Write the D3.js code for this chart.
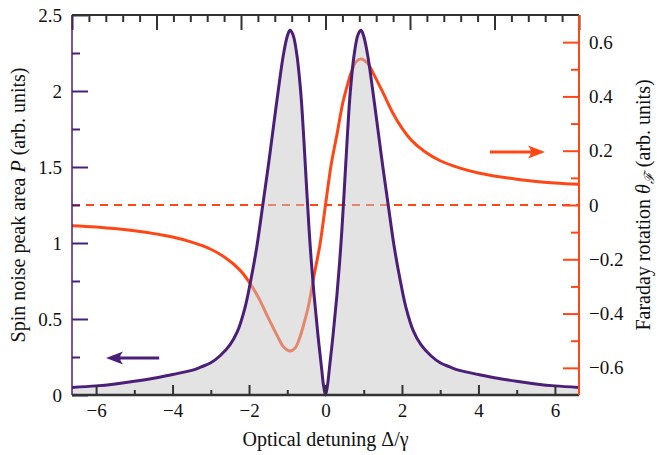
<!DOCTYPE html>
<html>
<head>
<meta charset="utf-8">
<script src="https://cdn.jsdelivr.net/npm/d3@7"></script>
<style>
body { margin: 0; background: #fff; }
svg text { font-family: "Liberation Serif", "Times New Roman", serif; fill: #111; }
</style>
</head>
<body>
<svg width="666" height="455"></svg>
<script>
// spin noise peak area (left axis)
var detuningP = [-6.63, -6.0, -5.5, -5.0, -4.5, -4.0, -3.5, -3.25, -3.0, -2.75, -2.5, -2.3, -2.1, -1.95, -1.8, -1.64, -1.5, -1.39, -1.2, -1.1, -1.0, -0.93, -0.85, -0.75, -0.65, -0.58, -0.48, -0.4, -0.3, -0.2, -0.1, -0.05, 0,
  0.05, 0.1, 0.2, 0.3, 0.4, 0.48, 0.58, 0.65, 0.75, 0.85, 0.93, 1.0, 1.1, 1.2, 1.39, 1.5, 1.64, 1.8, 1.95, 2.1, 2.3, 2.5, 2.75, 3.0, 3.25, 3.5, 4.0, 4.5, 5.0, 5.5, 6.0, 6.63];
var noiseArea = [0.050, 0.060, 0.073, 0.090, 0.110, 0.135, 0.162, 0.185, 0.212, 0.260, 0.330, 0.42, 0.58, 0.76, 0.97, 1.25, 1.50, 1.71, 2.07, 2.24, 2.36, 2.40, 2.37, 2.24, 2.00, 1.74, 1.30, 0.98, 0.66, 0.40, 0.17, 0.06, 0,
  0.06, 0.17, 0.40, 0.66, 0.98, 1.30, 1.74, 2.00, 2.24, 2.37, 2.40, 2.36, 2.24, 2.07, 1.71, 1.50, 1.25, 0.97, 0.76, 0.58, 0.42, 0.330, 0.260, 0.212, 0.185, 0.162, 0.135, 0.110, 0.090, 0.073, 0.060, 0.050];

// faraday rotation (right axis)
var detuningF = [-6.63, -6.0, -5.0, -4.0, -3.5, -3.0, -2.6, -2.25, -2.0, -1.75, -1.5, -1.25, -1.1, -0.93, -0.8, -0.67, -0.55, -0.45, -0.3, -0.15, 0,
  0.15, 0.3, 0.45, 0.55, 0.67, 0.8, 0.93, 1.1, 1.25, 1.5, 1.75, 2.0, 2.25, 2.6, 3.0, 3.5, 4.0, 5.0, 6.0, 6.63];
var faraday = [-0.076, -0.081, -0.095, -0.118, -0.137, -0.163, -0.196, -0.238, -0.283, -0.342, -0.415, -0.485, -0.522, -0.538, -0.528, -0.487, -0.43, -0.375, -0.26, -0.15, 0,
  0.15, 0.26, 0.375, 0.43, 0.487, 0.528, 0.538, 0.522, 0.485, 0.415, 0.342, 0.283, 0.238, 0.196, 0.163, 0.137, 0.118, 0.095, 0.081, 0.076];

// tick labels
var xTicks = [-6, -4, -2, 0, 2, 4, 6];
var xMinor = [-5, -3, -1, 1, 3, 5];
var leftTicks = [0, 0.5, 1, 1.5, 2, 2.5];
var leftMinor = [0.25, 0.75, 1.25, 1.75, 2.25];
var rightTicks = [-0.6, -0.4, -0.2, 0, 0.2, 0.4, 0.6];
var rightMinor = [-0.5, -0.3, -0.1, 0.1, 0.3, 0.5];
var topTicks = [-3, -2, -1, 0, 1, 2, 3];

var purple = "#4b1e78";
var orange = "#ff4716";
var dark = "#333";
var serif = "'Liberation Serif', 'Times New Roman', serif";

// plot box (window.top is read-only, so no plain "top")
var pLeft = 72, pRight = 579, pTop = 15, pBottom = 395;

var svg = d3.select("svg");

var x = d3.scaleLinear().domain([-6.63, 6.63]).range([pLeft, pRight]);
var xTop = d3.scaleLinear().domain([-3, 3]).range([pLeft, pRight]);
var yP = d3.scaleLinear().domain([0, 2.5]).range([pBottom, pTop]);
var yF = d3.scaleLinear().domain([-0.7, 0.7]).range([pBottom, pTop]);

var fmt = d3.format("");
var smooth = d3.curveCatmullRom.alpha(0.5);

var pts = detuningP.map(function (d, i) { return [d, noiseArea[i]]; });
var ptsF = detuningF.map(function (d, i) { return [d, faraday[i]]; });

// dashed zero line of faraday rotation (goes under the fill)
svg.append("line")
  .attr("x1", pLeft).attr("x2", pRight)
  .attr("y1", yF(0)).attr("y2", yF(0))
  .attr("stroke", orange).attr("stroke-width", 2)
  .attr("stroke-dasharray", "8,6");

svg.append("path")
  .datum(ptsF)
  .attr("fill", "none")
  .attr("stroke", orange)
  .attr("stroke-width", 3)
  .attr("d", d3.line()
    .x(function (d) { return x(d[0]); })
    .y(function (d) { return yF(d[1]); })
    .curve(smooth));

// translucent grey fill below the noise curve
svg.append("path")
  .datum(pts)
  .attr("fill", "rgba(200,200,200,0.5)")
  .attr("d", d3.area()
    .x(function (d) { return x(d[0]); })
    .y0(yP(0))
    .y1(function (d) { return yP(d[1]); })
    .curve(smooth));

svg.append("path")
  .datum(pts)
  .attr("fill", "none")
  .attr("stroke", purple)
  .attr("stroke-width", 3)
  .attr("d", d3.line()
    .x(function (d) { return x(d[0]); })
    .y(function (d) { return yP(d[1]); })
    .curve(smooth));

// axes, ticks point inward
function styleAxis(g, col) {
  g.attr("font-family", null).attr("font-size", null);
  g.select(".domain").remove();
  g.selectAll(".tick line").attr("stroke", col).attr("stroke-width", 2);
  g.selectAll(".tick text")
    .style("font-family", serif)
    .style("font-size", "19px")
    .attr("fill", "#111");
}

svg.append("g").attr("transform", "translate(0," + pBottom + ")")
  .call(d3.axisBottom(x).tickValues(xTicks).tickSize(-10).tickPadding(9).tickFormat(fmt))
  .call(styleAxis, dark);
svg.append("g").attr("transform", "translate(0," + pBottom + ")")
  .call(d3.axisBottom(x).tickValues(xMinor).tickSize(-5).tickFormat(""))
  .call(styleAxis, dark);

svg.append("g").attr("transform", "translate(0," + pTop + ")")
  .call(d3.axisTop(xTop).tickValues(topTicks).tickSize(-15).tickFormat(""))
  .call(styleAxis, dark);
svg.append("g").attr("transform", "translate(0," + pTop + ")")
  .call(d3.axisTop(xTop).tickValues(d3.range(-2.8, 3, 0.2).filter(function (v) { return Math.abs(v - Math.round(v)) > 0.05; })).tickSize(-7).tickFormat(""))
  .call(styleAxis, dark);

svg.append("g").attr("transform", "translate(" + pLeft + ",0)")
  .call(d3.axisLeft(yP).tickValues(leftTicks).tickSize(-16).tickPadding(10).tickFormat(fmt))
  .call(styleAxis, purple);
svg.append("g").attr("transform", "translate(" + pLeft + ",0)")
  .call(d3.axisLeft(yP).tickValues(leftMinor).tickSize(-8).tickFormat(""))
  .call(styleAxis, purple);

svg.append("g").attr("transform", "translate(" + pRight + ",0)")
  .call(d3.axisRight(yF).tickValues(rightTicks).tickSize(-16).tickPadding(10).tickFormat(fmt))
  .call(styleAxis, orange);
svg.append("g").attr("transform", "translate(" + pRight + ",0)")
  .call(d3.axisRight(yF).tickValues(rightMinor).tickSize(-8).tickFormat(""))
  .call(styleAxis, orange);

// spines
svg.append("line").attr("x1", pLeft).attr("x2", pRight).attr("y1", pTop).attr("y2", pTop)
  .attr("stroke", dark).attr("stroke-width", 2);
svg.append("line").attr("x1", pLeft).attr("x2", pRight).attr("y1", pBottom).attr("y2", pBottom)
  .attr("stroke", dark).attr("stroke-width", 2.5);
svg.append("line").attr("x1", pLeft).attr("x2", pLeft).attr("y1", pTop).attr("y2", pBottom)
  .attr("stroke", purple).attr("stroke-width", 1.5);
svg.append("line").attr("x1", pRight).attr("x2", pRight).attr("y1", pTop).attr("y2", pBottom)
  .attr("stroke", orange).attr("stroke-width", 2);

// arrows telling which curve belongs to which axis
function arrow(x0, x1, yy, col) {
  var dir = x1 < x0 ? -1 : 1;
  svg.append("line")
    .attr("x1", x0).attr("x2", x1 - dir * 8).attr("y1", yy).attr("y2", yy)
    .attr("stroke", col).attr("stroke-width", 3);
  svg.append("path")
    .attr("d", "M" + x1 + "," + yy +
      "L" + (x1 - dir * 17) + "," + (yy - 6.5) +
      "Q" + (x1 - dir * 11) + "," + yy + " " + (x1 - dir * 17) + "," + (yy + 6.5) + "Z")
    .attr("fill", col);
}
arrow(x(-4.35), x(-5.74), yP(0.243), purple);
arrow(x(4.3), x(5.74), yF(0.195), orange);

// axis titles
svg.append("text")
  .attr("x", (pLeft + pRight) / 2).attr("y", 446)
  .attr("text-anchor", "middle")
  .style("font-size", "20px")
  .text("Optical detuning \u0394/\u03b3");

var lt = svg.append("text")
  .attr("transform", "translate(25," + (pTop + pBottom) / 2 + ") rotate(-90)")
  .attr("text-anchor", "middle")
  .style("font-size", "20px");
lt.append("tspan").text("Spin noise peak area ");
lt.append("tspan").style("font-style", "italic").text("P");
lt.append("tspan").text(" (arb. units)");

var rt = svg.append("text")
  .attr("transform", "translate(650," + (pTop + pBottom) / 2 + ") rotate(-90)")
  .attr("text-anchor", "middle")
  .style("font-size", "20px");
rt.append("tspan").text("Faraday rotation ");
rt.append("tspan").style("font-style", "italic").text("\u03b8");
rt.append("tspan").style("font-size", "14px").style("font-style", "italic").attr("dy", 4).text("\u2131");
rt.append("tspan").attr("dy", -4).text(" (arb. units)");
</script>
</body>
</html>
